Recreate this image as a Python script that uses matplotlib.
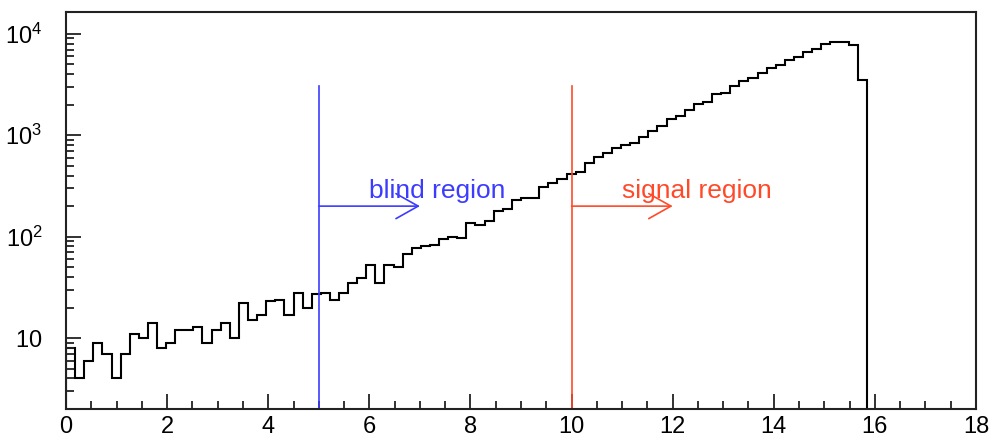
import matplotlib
matplotlib.use('Agg')
import matplotlib.pyplot as plt
import numpy as np

# histogram: 100 bins from 0 to 18, only the first 88 are filled
bin_width = 0.18
counts = [8, 4, 6, 9, 7, 4, 7, 11, 10, 14,
          8, 9, 12, 12, 13, 9, 12, 14, 10, 22,
          15, 17, 23, 24, 17, 28, 20, 27, 28, 24,
          28, 35, 39, 52, 35, 52, 50, 68, 77, 80,
          83, 95, 100, 98, 135, 130, 144, 180, 186, 230,
          238, 238, 306, 340, 367, 418, 430, 535, 614, 663,
          743, 800, 843, 966, 1107, 1233, 1436, 1547, 1773, 2032,
          2139, 2547, 2625, 3055, 3440, 3641, 4120, 4550, 4906, 5500,
          5930, 6550, 7060, 7910, 8220, 8220, 7730, 3500]

# region markers
region_x = [5, 10]
region_names = ['blind region', 'signal region']
region_colors = ['#3c3cff', '#ff4a2a']
line_top = 3050
arrow_y = 200
arrow_len = 2.0
label_dx = 1.0
label_y = 240

x_ticks = [0, 2, 4, 6, 8, 10, 12, 14, 16, 18]
y_ticks = [10, 100, 1000, 10000]
y_tick_labels = [r'$\mathregular{10}$', r'$\mathregular{10^{2}}$',
                 r'$\mathregular{10^{3}}$', r'$\mathregular{10^{4}}$']

plt.rcParams['font.family'] = ['Liberation Sans', 'DejaVu Sans']
plt.rcParams['mathtext.fontset'] = 'custom'
plt.rcParams['mathtext.rm'] = 'Liberation Sans'

fig = plt.figure(figsize=(9.92, 4.42), dpi=100)
ax = fig.add_axes([66 / 992, 33 / 442, 910 / 992, 397 / 442])

edges = np.arange(len(counts) + 1) * bin_width
ax.stairs(counts, edges, baseline=1, color='black', linewidth=1.5)

for xr, name, col in zip(region_x, region_names, region_colors):
    ax.plot([xr, xr], [1, line_top], color=col, linewidth=1.2)
    ax.annotate('', xy=(xr + arrow_len, arrow_y), xytext=(xr, arrow_y),
                arrowprops=dict(arrowstyle='->,head_length=0.8,head_width=0.45',
                                color=col, linewidth=1.2, mutation_scale=20,
                                shrinkA=0, shrinkB=0))
    ax.text(xr + label_dx, label_y, name, color=col, fontsize=19,
            va='baseline', ha='left')

ax.set_yscale('log')
ax.set_xlim(0, 18)
ax.set_ylim(2, 16400)

ax.set_xticks(x_ticks)
ax.set_xticklabels([str(t) for t in x_ticks])
ax.set_xticks(np.arange(0, 18.01, 0.5), minor=True)
ax.set_yticks(y_ticks)
ax.set_yticklabels(y_tick_labels)

ax.tick_params(axis='both', which='both', direction='in', top=False, right=False,
               colors='#222222', labelcolor='black')
ax.tick_params(axis='both', which='major', length=11, width=1.3, labelsize=17)
ax.tick_params(axis='both', which='minor', length=5.5, width=1.3)
ax.tick_params(axis='x', which='major', pad=5)
ax.tick_params(axis='y', which='major', pad=17)

for s in ax.spines.values():
    s.set_linewidth(1.5)
    s.set_color('#222222')

fig.savefig('out.png', dpi=100)
